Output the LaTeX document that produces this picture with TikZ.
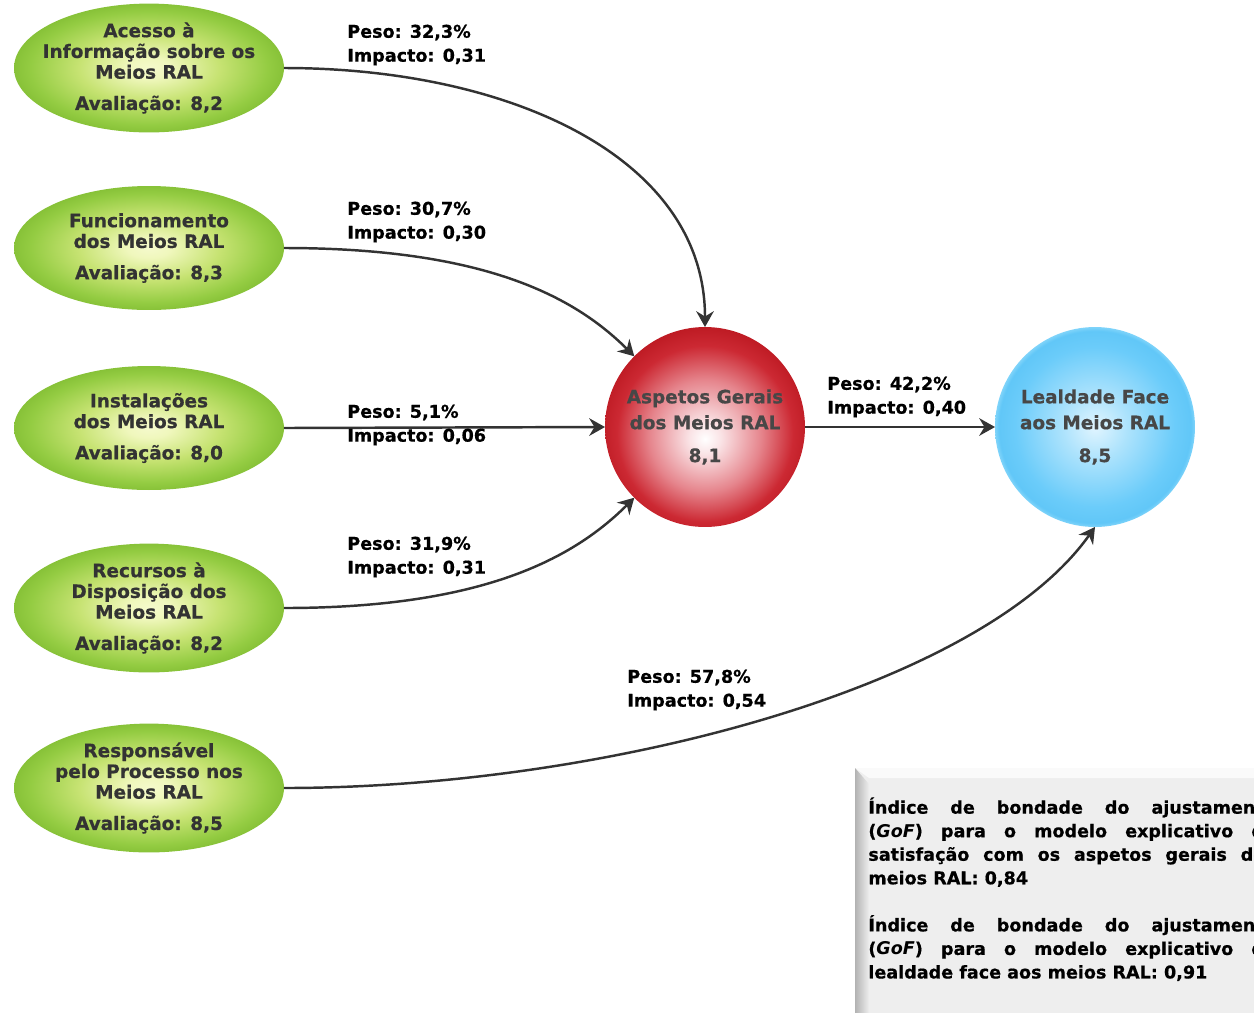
\documentclass[tikz,border=0pt]{standalone}
\usepackage{fontspec}
\setmainfont{DejaVu Sans}[BoldFeatures={FakeBold=0.6}]
\usetikzlibrary{shapes.geometric,arrows.meta}
\definecolor{inkgray}{HTML}{333333}
\definecolor{linkgray}{HTML}{333333}
\definecolor{boxgray}{HTML}{EEEEEE}
\pgfdeclareradialshading{greenball}{\pgfpoint{0bp}{0bp}}{rgb(0bp)=(0.96,0.98,0.80); rgb(4bp)=(0.94,0.97,0.74); rgb(13bp)=(0.78,0.89,0.45); rgb(22bp)=(0.58,0.80,0.26); rgb(25bp)=(0.53,0.76,0.22); rgb(50bp)=(0.53,0.76,0.22)}
\pgfdeclareradialshading{redball}{\pgfpoint{0bp}{-3bp}}{rgb(0bp)=(1,1,1); rgb(4bp)=(0.98,0.89,0.90); rgb(14bp)=(0.90,0.52,0.55); rgb(22bp)=(0.80,0.16,0.20); rgb(30bp)=(0.70,0.06,0.09); rgb(50bp)=(0.70,0.06,0.09)}
\pgfdeclareradialshading{blueball}{\pgfpoint{0bp}{0bp}}{rgb(0bp)=(0.88,0.96,1); rgb(8bp)=(0.68,0.89,0.99); rgb(20bp)=(0.42,0.80,0.98); rgb(24bp)=(0.38,0.78,0.97); rgb(25bp)=(0.50,0.83,0.98); rgb(50bp)=(0.50,0.83,0.98)}
\begin{document}
\begin{tikzpicture}[
	x=0.02cm,y=-0.02cm,
	dim/.style={ellipse,shading=greenball,minimum width=5.4cm,minimum height=2.48cm,
		inner xsep=-0.3cm,inner ysep=0pt,outer sep=0pt,align=center,text=inkgray,
		font=\fontsize{10.5}{11.8}\selectfont\bfseries},
	hub/.style={circle,shading=redball,minimum size=4cm,inner sep=0pt,outer sep=0pt,
		align=center,text=inkgray!90,font=\fontsize{10.5}{14.7}\selectfont\bfseries},
	goal/.style={circle,shading=blueball,minimum size=4cm,inner sep=0pt,outer sep=0pt,
		align=center,text=inkgray!90,font=\fontsize{10.5}{14.7}\selectfont\bfseries},
	lbl/.style={anchor=west,inner sep=0pt,align=left,
		font=\fontsize{10}{13.6}\selectfont\bfseries},
	link/.style={draw=linkgray,line width=1.4pt,-{Stealth[length=9pt,width=10pt,inset=3pt]}},
	]
\useasboundingbox (0,0) rectangle (1254,1012);
% indicators
\node [dim] (acesso) at (149,68) {Acesso à\\Informação sobre os\\Meios RAL\\[6pt]Avaliação: 8,2};
\node [dim] (funcion) at (149,248) {Funcionamento\\dos Meios RAL\\[6pt]Avaliação: 8,3};
\node [dim] (instal) at (149,428) {Instalações\\dos Meios RAL\\[6pt]Avaliação: 8,0};
\node [dim] (recursos) at (149,608) {Recursos à\\Disposição dos\\Meios RAL\\[6pt]Avaliação: 8,2};
\node [dim] (respons) at (149,788) {Responsável\\pelo Processo nos\\Meios RAL\\[6pt]Avaliação: 8,5};
% latent variables
\node [hub] (aspetos) at (705,427) {Aspetos Gerais\\dos Meios RAL\\[4pt]8,1};
\node [goal] (lealdade) at (1095,427) {Lealdade Face\\aos Meios RAL\\[4pt]8,5};
% connectors
\draw [link] (acesso.east) .. controls +(225,0) and +(0,-170) .. (aspetos.north);
\draw [link] (funcion.east) .. controls +(200,0) and +(-60,-60) .. (aspetos.135);
\draw [link] (instal.east) -- (aspetos.west);
\draw [link] (recursos.east) .. controls +(200,0) and +(-60,60) .. (aspetos.225);
\draw [link] (respons.east) .. controls +(316,0) and +(-115,162) .. (lealdade.south);
\draw [link] (aspetos.east) -- (lealdade.west);
% weights
\node [lbl] (w1) at (347,45) {Peso: 32,3\%\\Impacto: 0,31};
\node [lbl] (w2) at (347,222) {Peso: 30,7\%\\Impacto: 0,30};
\node [lbl] (w3) at (347,425) {Peso: 5,1\%\\Impacto: 0,06};
\node [lbl] (w4) at (347,557) {Peso: 31,9\%\\Impacto: 0,31};
\node [lbl] (w5) at (627,690) {Peso: 57,8\%\\Impacto: 0,54};
\node [lbl] (w6) at (827,397) {Peso: 42,2\%\\Impacto: 0,40};
% GoF box
\fill [boxgray] (855,768) rectangle (1290,1030);
\fill [white!70!boxgray] (855,768) -- (1290,768) -- (1290,778) -- (869,778) -- cycle;
\shade [left color=gray!60, right color=boxgray] (855,768) -- (869,784) -- (869,1030) -- (855,1030) -- cycle;
\node [anchor=north west,inner sep=0pt,text width=8.15cm,
	font=\fontsize{10}{13.4}\selectfont\bfseries,align=justify] (gof) at (868,797)
	{Índice de bondade do ajustamento\linebreak (\textit{GoF}) para o modelo explicativo da\linebreak satisfação com os aspetos gerais dos\linebreak meios RAL: 0,84\par\vspace{13.4pt}
	Índice de bondade do ajustamento\linebreak (\textit{GoF}) para o modelo explicativo da\linebreak lealdade face aos meios RAL: 0,91};
\end{tikzpicture}
\end{document}
